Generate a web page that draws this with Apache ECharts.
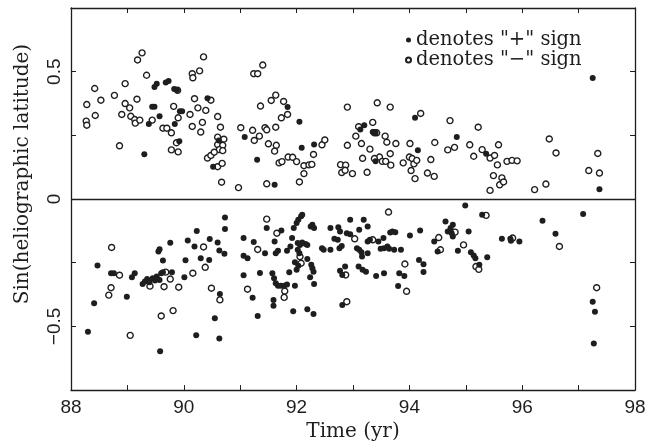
<!DOCTYPE html>
<html>
<head>
<meta charset="utf-8">
<script src="https://cdn.jsdelivr.net/npm/echarts@6/dist/echarts.min.js"></script>
<style>html,body{margin:0;padding:0;background:#fff;}#c{width:661px;height:447px;}</style>
</head>
<body>
<div id="c"></div>
<script>
// "+" sign (filled dots): time (yr), sin(latitude)
const plusX = [89.48,89.52,89.68,89.73,89.44,89.48,89.38,89.57,89.30,89.84,89.83,89.88,89.93,89.97,89.92,90.42,90.62,90.52,91.08,91.30,91.84,92.05,92.09,92.31,91.61,93.13,93.20,93.35,93.40,93.40,94.10,94.15,94.84,95.36,97.25,97.37,
88.30,88.41,88.47,88.71,88.76,88.99,89.08,89.13,89.27,89.31,89.35,89.39,89.45,89.49,89.52,89.57,89.60,89.63,89.55,89.57,89.63,89.76,89.79,89.58,90.01,90.03,90.07,90.19,90.23,90.30,90.22,90.45,90.46,90.60,90.63,90.72,90.73,90.73,90.64,90.55,90.63,91.06,91.06,91.13,91.06,91.22,91.24,91.31,91.35,
91.44,91.47,91.61,91.63,91.67,91.57,91.60,91.63,91.67,91.72,91.78,91.83,91.59,91.59,91.73,91.83,91.89,91.92,91.95,92.00,92.03,92.08,92.10,92.02,92.06,92.10,92.16,92.19,92.02,92.05,91.97,91.87,92.00,92.03,92.19,92.25,92.28,92.31,92.26,92.28,92.30,92.24,92.31,91.97,91.94,92.19,92.30,92.45,92.48,92.60,92.60,92.67,92.73,92.74,92.77,92.76,92.80,92.77,92.81,92.86,92.89,92.95,92.95,92.81,
93.07,93.11,93.15,93.16,93.10,93.17,93.23,93.11,93.19,93.26,93.26,93.30,93.26,93.41,93.45,93.54,93.49,93.55,93.61,93.64,93.55,93.66,93.70,93.75,93.73,93.85,93.82,93.91,93.80,94.01,94.19,94.17,94.25,94.25,94.44,94.50,94.64,
94.68,94.73,94.77,94.75,94.77,94.99,94.86,95.05,95.09,95.14,95.17,95.24,95.29,95.38,95.64,95.79,95.80,95.95,96.36,96.59,97.08,97.25,97.29,97.27];
const plusY = [0.440,0.453,0.458,0.463,0.362,0.362,0.295,0.325,0.176,0.295,0.432,0.428,0.345,0.345,0.227,0.396,0.230,0.127,0.244,0.154,0.361,0.303,0.201,0.214,0.056,0.273,0.290,0.263,0.260,0.148,0.319,0.192,0.244,0.178,0.475,0.038,
-0.521,-0.409,-0.261,-0.291,-0.291,-0.384,-0.307,-0.291,-0.333,-0.324,-0.314,-0.327,-0.311,-0.320,-0.304,-0.318,-0.291,-0.287,-0.206,-0.197,-0.241,-0.172,-0.287,-0.597,-0.307,-0.240,-0.163,-0.186,-0.125,-0.232,-0.535,-0.239,-0.157,-0.171,-0.202,-0.215,-0.072,-0.118,-0.373,-0.468,-0.547,-0.153,-0.223,-0.232,-0.299,-0.387,-0.169,-0.459,-0.290,
-0.213,-0.114,-0.167,-0.213,-0.203,-0.291,-0.311,-0.331,-0.340,-0.340,-0.340,-0.335,-0.396,-0.419,-0.123,-0.203,-0.186,-0.153,-0.114,-0.094,-0.081,-0.068,-0.062,-0.173,-0.180,-0.171,-0.176,-0.180,-0.199,-0.213,-0.248,-0.287,-0.278,-0.262,-0.235,-0.108,-0.101,-0.114,-0.258,-0.272,-0.285,-0.307,-0.333,-0.340,-0.440,-0.433,-0.451,-0.193,-0.199,-0.114,-0.199,-0.156,-0.160,-0.111,-0.127,-0.193,-0.184,-0.281,-0.298,-0.265,-0.134,-0.138,-0.081,-0.416,
-0.193,-0.199,-0.209,-0.226,-0.265,-0.278,-0.285,-0.121,-0.081,-0.108,-0.167,-0.160,-0.213,-0.302,-0.167,-0.153,-0.195,-0.193,-0.186,-0.195,-0.291,-0.131,-0.127,-0.130,-0.199,-0.199,-0.291,-0.302,-0.341,-0.143,-0.123,-0.239,-0.256,-0.286,-0.167,-0.206,-0.088,
-0.127,-0.114,-0.101,-0.134,-0.147,-0.025,-0.203,-0.127,-0.209,-0.222,-0.232,-0.258,-0.062,-0.228,-0.156,-0.156,-0.164,-0.167,-0.085,-0.136,-0.059,-0.403,-0.442,-0.567];

// "−" sign (open circles)
const minusX = [88.28,88.43,88.27,88.28,88.42,88.53,88.77,88.96,88.96,89.04,88.90,89.06,89.13,89.14,89.22,89.18,89.26,89.17,89.34,88.86,89.44,89.63,89.70,89.78,89.82,89.89,89.90,89.87,89.78,89.90,90.11,90.15,90.15,90.16,90.28,90.35,90.19,90.25,90.33,90.30,90.39,90.48,90.60,90.65,90.60,90.71,90.60,90.69,90.63,90.69,90.42,90.48,90.54,90.60,90.68,90.67,90.97,91.01,91.22,91.25,91.34,91.24,91.31,91.36,91.40,
91.44,91.47,91.55,91.63,91.77,91.84,91.73,91.63,91.50,91.64,91.61,91.69,91.74,91.85,91.93,92.00,92.13,92.22,92.27,92.13,92.05,91.47,92.30,92.45,92.50,92.90,92.90,92.78,92.87,92.80,92.86,92.99,93.25,93.05,93.10,93.15,93.17,93.30,93.35,93.43,93.38,93.42,93.57,93.60,93.66,93.66,93.47,93.52,93.58,93.67,93.38,93.76,93.89,94.01,94.00,94.05,94.08,94.13,94.03,94.10,94.20,94.32,94.38,94.45,94.44,
94.72,94.68,94.80,95.07,95.14,95.22,95.29,95.43,95.51,95.58,95.56,95.49,95.64,95.60,95.67,95.43,95.73,95.82,95.91,96.22,96.42,96.48,96.60,97.18,97.37,97.34,
88.72,88.86,88.71,88.67,89.05,89.40,89.65,89.68,89.76,89.91,89.60,89.81,90.16,90.35,90.38,90.49,90.64,91.13,91.31,91.47,91.65,92.06,92.08,91.79,91.78,92.89,92.87,93.03,93.35,93.63,93.92,93.95,94.52,94.55,94.81,94.96,95.18,95.23,95.36,95.83,96.66,97.32];
const minusY = [0.371,0.328,0.306,0.290,0.434,0.388,0.407,0.453,0.375,0.358,0.332,0.325,0.312,0.298,0.310,0.546,0.574,0.392,0.486,0.209,0.310,0.278,0.278,0.260,0.364,0.427,0.319,0.221,0.193,0.185,0.332,0.285,0.492,0.476,0.503,0.558,0.394,0.358,0.301,0.263,0.348,0.388,0.324,0.282,0.243,0.235,0.214,0.211,0.194,0.190,0.161,0.171,0.184,0.127,0.140,0.066,0.045,0.280,0.270,0.230,0.247,0.492,0.492,0.365,0.526,
0.280,0.272,0.387,0.408,0.383,0.332,0.319,0.282,0.217,0.211,0.188,0.142,0.147,0.165,0.164,0.147,0.131,0.134,0.136,0.100,0.067,0.060,0.175,0.213,0.232,0.361,0.211,0.135,0.133,0.104,0.113,0.100,0.105,0.247,0.284,0.218,0.160,0.196,0.301,0.378,0.260,0.260,0.247,0.223,0.361,0.178,0.165,0.148,0.148,0.133,0.159,0.218,0.142,0.218,0.165,0.159,0.138,0.152,0.112,0.080,0.336,0.102,0.155,0.222,0.089,
0.308,0.193,0.203,0.213,0.168,0.282,0.194,0.161,0.171,0.213,0.134,0.092,0.083,0.056,0.067,0.034,0.148,0.152,0.150,0.037,0.059,0.236,0.181,0.112,0.102,0.179,
-0.190,-0.299,-0.348,-0.377,-0.535,-0.342,-0.344,-0.287,-0.314,-0.346,-0.459,-0.438,-0.291,-0.188,-0.268,-0.350,-0.396,-0.354,-0.198,-0.079,-0.134,-0.226,-0.252,-0.361,-0.386,-0.403,-0.298,-0.156,-0.160,-0.051,-0.255,-0.362,-0.151,-0.199,-0.130,-0.180,-0.265,-0.276,-0.064,-0.153,-0.186,-0.348];

const xTickLabels = ['88','90','92','94','96','98'];
const yTickLabels = {'0.5':'0.5','0':'0','-0.5':'\u22120.5'};

const ink = '#1e1e1e';
const serif = 'DejaVu Serif';
const zip = (a,b) => a.map((v,i)=>[v,b[i]]);

const chart = echarts.init(document.getElementById('c'), null, {renderer:'canvas'});
const axisCommon = {
  min: 88, max: 98, interval: 1,
  axisLine: {show: true, onZero: false, lineStyle: {color: ink, width: 1.3}},
  axisTick: {show: true, inside: true, length: 5, lineStyle: {color: ink, width: 1}},
  splitLine: {show: false}
};
const yCommon = {
  min: -0.75, max: 0.75, interval: 0.25,
  axisLine: {show: true, onZero: false, lineStyle: {color: ink, width: 1.3}},
  axisTick: {show: true, inside: true, length: 5, lineStyle: {color: ink, width: 1}},
  splitLine: {show: false}
};
chart.setOption({
  animation: false,
  backgroundColor: '#fff',
  grid: {left: 71, right: 26, top: 8, bottom: 56},
  legend: {
    orient: 'vertical', left: 400, top: 25, itemGap: 0,
    itemWidth: 5, itemHeight: 5, icon: 'circle',
    textStyle: {fontFamily: serif, fontSize: 19.5, color: ink, lineHeight: 18},
    data: ['denotes "+" sign', 'denotes "\u2212" sign']
  },
  xAxis: [
    Object.assign({type: 'value', position: 'bottom',
      name: 'Time (yr)', nameLocation: 'middle', nameGap: 31,
      nameTextStyle: {fontFamily: serif, fontSize: 20, color: ink},
      axisLabel: {show: true, margin: 8, color: ink, fontFamily: 'Liberation Sans', fontSize: 19,
        formatter: v => { const s = String(Math.round(v)); return xTickLabels.includes(s) ? s : ''; }}
    }, axisCommon),
    Object.assign({type: 'value', position: 'top', axisLabel: {show: false}}, axisCommon)
  ],
  yAxis: [
    Object.assign({type: 'value', position: 'left',
      name: 'Sin(heliographic latitude)', nameLocation: 'middle', nameGap: 38,
      nameTextStyle: {fontFamily: serif, fontSize: 20, color: ink, padding: [0, 0, 0, 50]},
      axisLabel: {show: true, rotate: 90, margin: 7, color: ink, fontFamily: 'Liberation Sans', fontSize: 19,
        formatter: v => { const k = String(Math.round(v*100)/100); return yTickLabels[k] || ''; }}
    }, yCommon),
    Object.assign({type: 'value', position: 'right', axisLabel: {show: false}}, yCommon)
  ],
  series: [
    {
      name: 'denotes "\u2212" sign', type: 'scatter', symbol: 'circle', symbolSize: 6,
      itemStyle: {color: '#fff', borderColor: ink, borderWidth: 1.4, opacity: 1},
      data: zip(minusX, minusY),
      markLine: {silent: true, symbol: ['none','none'], label: {show: false},
        lineStyle: {color: ink, width: 1.3, type: 'solid'}, data: [{yAxis: 0}]}
    },
    {
      name: 'denotes "+" sign', type: 'scatter', symbol: 'circle', symbolSize: 6,
      itemStyle: {color: ink, opacity: 1},
      data: zip(plusX, plusY)
    }
  ]
});
</script>
</body>
</html>
